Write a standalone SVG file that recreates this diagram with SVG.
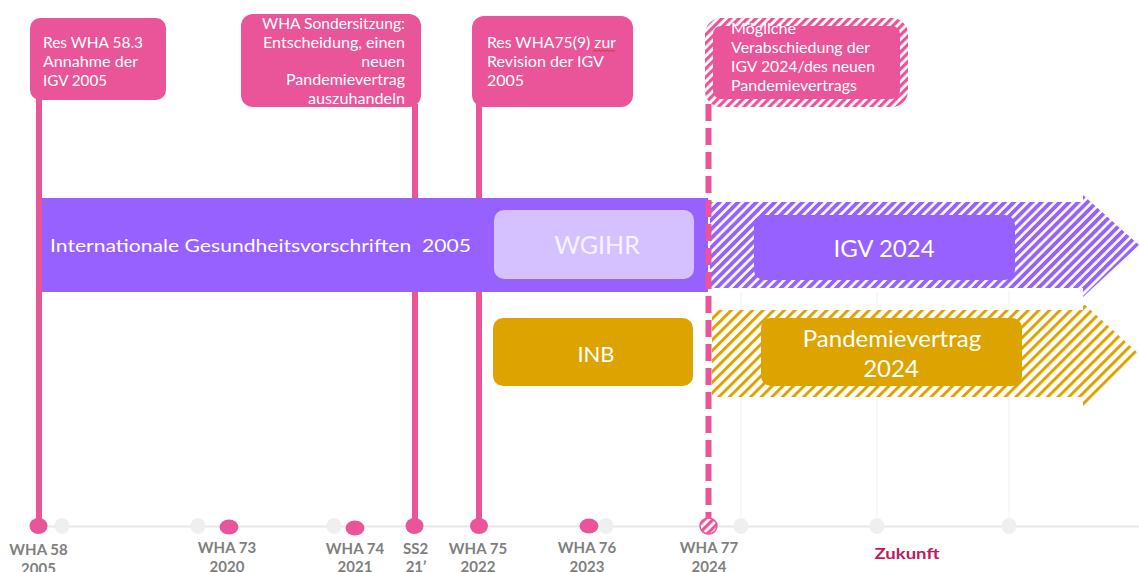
<svg xmlns="http://www.w3.org/2000/svg" width="1139" height="572" viewBox="0 0 1139 572">
<style>
.ct{font-family:Lato,"Open Sans","Liberation Sans",sans-serif;font-size:16px;fill:#fff}
.ax{font-family:Lato,"Open Sans","Liberation Sans",sans-serif;font-size:15px;font-weight:bold;fill:#7f7f7f;text-anchor:middle}
.bx{font-family:Lato,"Open Sans","Liberation Sans",sans-serif;fill:#fff;text-anchor:middle}
.pk{fill:#EA5499}
.gd{fill:#efefef}
.gl{stroke:#f1f1f1;stroke-width:1}
</style>
<defs>
<pattern id="hPurple" patternUnits="userSpaceOnUse" width="6.5" height="6.5" patternTransform="rotate(45)"><rect width="6.5" height="6.5" fill="#fff"/><rect width="3.8" height="6.5" fill="#9661FF"/></pattern>
<pattern id="hGold" patternUnits="userSpaceOnUse" width="7.5" height="7.5" patternTransform="rotate(45)"><rect width="7.5" height="7.5" fill="#fff"/><rect width="3" height="7.5" fill="#DDA300"/></pattern>
<pattern id="hPink" patternUnits="userSpaceOnUse" width="6" height="6" patternTransform="rotate(45)"><rect width="6" height="6" fill="#fff"/><rect width="3.2" height="6" fill="#EA5499"/></pattern>
</defs>
<rect width="1139" height="572" fill="#fff"/>

<g id="grid">
<line class="gl" x1="741" y1="290" x2="741" y2="520"/>
<line class="gl" x1="877" y1="290" x2="877" y2="520"/>
<line class="gl" x1="1009" y1="290" x2="1009" y2="520"/>
<line x1="38" y1="526.5" x2="1139" y2="526.5" stroke="#e7e7e7" stroke-width="2"/>
</g>

<g id="connectors">
<line x1="39" y1="98" x2="39" y2="524" stroke="#EA5499" stroke-width="6"/>
<line x1="415" y1="104" x2="415" y2="524" stroke="#EA5499" stroke-width="6"/>
<line x1="479" y1="104" x2="479" y2="524" stroke="#EA5499" stroke-width="6"/>
</g>

<g id="bar-ihr">
<rect x="42" y="198" width="666" height="94" fill="#9661FF"/>
<text class="bx" x="50" y="252" font-size="18" style="text-anchor:start" textLength="421" lengthAdjust="spacingAndGlyphs" xml:space="preserve">Internationale Gesundheitsvorschriften  2005</text>
</g>

<g id="node-wgihr">
<rect x="494" y="210" width="200" height="69" rx="10" fill="#D5C1FF"/>
<text class="bx" x="597" y="254" font-size="25" style="fill:#f6f2ff">WGIHR</text>
</g>

<g id="node-inb">
<rect x="493" y="318" width="200" height="68" rx="10" fill="#DDA300"/>
<text class="bx" x="596" y="362" font-size="22">INB</text>
</g>

<g id="arrow-igv">
<polygon points="710,202 1083,202 1083,195 1139,245 1083,297 1083,288 710,288" fill="url(#hPurple)"/>
<rect x="754" y="215" width="261" height="65" rx="10" fill="#9661FF"/>
<text class="bx" x="884" y="257" font-size="24">IGV 2024</text>
</g>

<g id="arrow-pandemie">
<polygon points="712,310 1083,310 1083,303 1139,354 1083,407 1083,397 712,397" fill="url(#hGold)"/>
<rect x="761" y="318" width="261" height="68" rx="10" fill="#DDA300"/>
<text class="bx" x="892" y="347" font-size="24">Pandemievertrag</text>
<text class="bx" x="891" y="377" font-size="24">2024</text>
</g>

<g id="dashed-wha77">
<line x1="708.5" y1="104" x2="708.5" y2="518" stroke="#EA5499" stroke-width="6" stroke-dasharray="17 7"/>
</g>

<g id="callout-wha58">
<rect class="pk" x="30" y="18" width="136" height="82" rx="10"/>
<text class="ct" x="43" y="48" textLength="100" lengthAdjust="spacingAndGlyphs">Res WHA 58.3</text>
<text class="ct" x="43" y="67" textLength="95" lengthAdjust="spacingAndGlyphs">Annahme der</text>
<text class="ct" x="43" y="86" textLength="64" lengthAdjust="spacingAndGlyphs">IGV 2005</text>
</g>

<g id="callout-ss">
<rect class="pk" x="241" y="14" width="180" height="93" rx="12"/>
<text class="ct" x="405" y="29" text-anchor="end" textLength="143" lengthAdjust="spacingAndGlyphs">WHA Sondersitzung:</text>
<text class="ct" x="405" y="48" text-anchor="end" textLength="142" lengthAdjust="spacingAndGlyphs">Entscheidung, einen</text>
<text class="ct" x="405" y="67" text-anchor="end">neuen</text>
<text class="ct" x="405" y="85" text-anchor="end" textLength="119" lengthAdjust="spacingAndGlyphs">Pandemievertrag</text>
<text class="ct" x="405" y="104" text-anchor="end" textLength="97" lengthAdjust="spacingAndGlyphs">auszuhandeln</text>
</g>

<g id="callout-wha75">
<rect class="pk" x="472" y="16" width="161" height="91" rx="12"/>
<text class="ct" x="487" y="48" textLength="129" lengthAdjust="spacingAndGlyphs">Res WHA75(9) zur</text>
<path d="M593,51.5 l2,-1.5 l2,1.5 l2,-1.5 l2,1.5 l2,-1.5 l2,1.5 l2,-1.5 l2,1.5 l2,-1.5 l2,1.5 l2,-1.5" fill="none" stroke="#e0302a" stroke-width="1"/>
<text class="ct" x="487" y="67" textLength="117" lengthAdjust="spacingAndGlyphs">Revision der IGV</text>
<text class="ct" x="487" y="86">2005</text>
</g>

<g id="callout-wha77">
<rect x="709" y="22" width="195" height="81" rx="12" fill="#EA5499" stroke="url(#hPink)" stroke-width="8"/>
<text class="ct" x="731" y="34" textLength="65" lengthAdjust="spacingAndGlyphs">Mögliche</text>
<text class="ct" x="731" y="53" textLength="139" lengthAdjust="spacingAndGlyphs">Verabschiedung der</text>
<text class="ct" x="731" y="72" textLength="144" lengthAdjust="spacingAndGlyphs">IGV 2024/des neuen</text>
<text class="ct" x="731" y="91" textLength="126" lengthAdjust="spacingAndGlyphs">Pandemievertrags</text>
</g>

<g id="timeline-dots">
<ellipse class="gd" cx="62" cy="526" rx="7.5" ry="8"/>
<ellipse class="gd" cx="198" cy="526" rx="7.5" ry="8"/>
<ellipse class="gd" cx="334" cy="526" rx="7.5" ry="8"/>
<ellipse class="gd" cx="606" cy="526" rx="7.5" ry="8"/>
<ellipse class="gd" cx="741" cy="526" rx="7.5" ry="8"/>
<ellipse class="gd" cx="877" cy="526" rx="7.5" ry="8"/>
<ellipse class="gd" cx="1009" cy="526" rx="7.5" ry="8"/>
<ellipse class="pk" cx="38.5" cy="526" rx="9" ry="8"/>
<ellipse class="pk" cx="229" cy="527" rx="9.5" ry="7.5"/>
<ellipse class="pk" cx="355" cy="528" rx="9.5" ry="7.5"/>
<ellipse class="pk" cx="414.5" cy="526" rx="9" ry="8"/>
<ellipse class="pk" cx="479" cy="526" rx="9" ry="8"/>
<ellipse class="pk" cx="589" cy="526" rx="9.5" ry="7.5"/>
<ellipse cx="708.5" cy="526" rx="8.5" ry="8" fill="url(#hPink)" stroke="#EA5499" stroke-width="1.5"/>
</g>

<g id="axis-labels">
<text class="ax" x="38.5" y="555">WHA 58</text>
<text class="ax" x="38.5" y="574">2005</text>
<text class="ax" x="227" y="553">WHA 73</text>
<text class="ax" x="227" y="572">2020</text>
<text class="ax" x="355" y="554">WHA 74</text>
<text class="ax" x="355" y="572">2021</text>
<text class="ax" x="415.5" y="554">SS2</text>
<text class="ax" x="416" y="572">21’</text>
<text class="ax" x="478" y="554">WHA 75</text>
<text class="ax" x="478" y="572">2022</text>
<text class="ax" x="587" y="553">WHA 76</text>
<text class="ax" x="587" y="572">2023</text>
<text class="ax" x="709" y="553">WHA 77</text>
<text class="ax" x="709" y="572">2024</text>
<text class="ax" x="907" y="559" font-size="17" style="fill:#C3185E" textLength="65" lengthAdjust="spacingAndGlyphs">Zukunft</text>
</g>
</svg>
